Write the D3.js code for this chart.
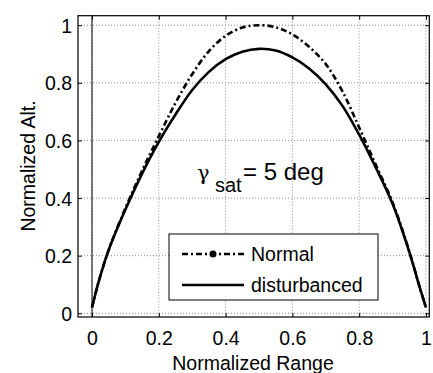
<!DOCTYPE html>
<html>
<head>
<meta charset="utf-8">
<script src="https://cdn.jsdelivr.net/npm/d3@7"></script>
<style>
    body { margin: 0; background: #fff; }
    text { font-family: "Liberation Sans", Arial, sans-serif; fill: #000; }
</style>
</head>
<body>
<div id="graph"></div>
<script>
// values
const rangeX = [0, 0.02, 0.05, 0.1, 0.15, 0.2, 0.25, 0.3, 0.35, 0.4, 0.45, 0.5,
    0.55, 0.6, 0.65, 0.7, 0.75, 0.8, 0.85, 0.9, 0.95, 0.98, 1];
const altNormal = [0.02, 0.11, 0.22, 0.365, 0.495, 0.615, 0.73, 0.83, 0.91, 0.963, 0.992, 1.0,
    0.993, 0.968, 0.925, 0.865, 0.77, 0.645, 0.515, 0.385, 0.215, 0.095, 0.02];
const altDisturbed = [0.02, 0.11, 0.22, 0.36, 0.485, 0.595, 0.69, 0.775, 0.838, 0.882, 0.908, 0.918,
    0.912, 0.888, 0.85, 0.795, 0.72, 0.62, 0.505, 0.38, 0.213, 0.095, 0.02];
const xTicks = [0, 0.2, 0.4, 0.6, 0.8, 1];
const yTicks = [0, 0.2, 0.4, 0.6, 0.8, 1];
const legendLabels = ["Normal", "disturbanced"];

const width = 433;
const height = 373;
const box = {left: 78, right: 429.3, top: 15.7, bottom: 317};

const xScale = d3.scaleLinear()
    .domain([-0.042, 1.01])
    .range([box.left, box.right]);

const yScale = d3.scaleLinear()
    .domain([-0.013, 1.033])
    .range([box.bottom, box.top]);

const svg = d3.select("#graph")
    .append("svg")
    .attr("width", width)
    .attr("height", height);

// grid
svg.append("g")
    .selectAll("line")
    .data(xTicks)
    .join("line")
    .attr("x1", d => xScale(d))
    .attr("x2", d => xScale(d))
    .attr("y1", box.top)
    .attr("y2", box.bottom)
    .attr("stroke", "#8c8c8c")
    .attr("stroke-dasharray", "1,2");

svg.append("g")
    .selectAll("line")
    .data(yTicks)
    .join("line")
    .attr("x1", box.left)
    .attr("x2", box.right)
    .attr("y1", d => yScale(d))
    .attr("y2", d => yScale(d))
    .attr("stroke", "#8c8c8c")
    .attr("stroke-dasharray", "1,2");

// solid line at x = 0
svg.append("line")
    .attr("x1", xScale(0))
    .attr("x2", xScale(0))
    .attr("y1", box.top)
    .attr("y2", box.bottom)
    .attr("stroke", "#000")
    .attr("stroke-width", 1);

// axes, ticks inward on all sides
const tickLen = 4;
svg.append("g")
    .attr("transform", `translate(0, ${box.bottom})`)
    .call(d3.axisBottom(xScale).tickValues(xTicks).tickSizeInner(-tickLen).tickSizeOuter(0).tickFormat(d3.format("")))
    .call(g => g.select(".domain").remove())
    .call(g => g.selectAll("text").attr("font-size", "19.5px").attr("y", 14).attr("dy", "0.71em"));

svg.append("g")
    .attr("transform", `translate(0, ${box.top})`)
    .call(d3.axisTop(xScale).tickValues(xTicks).tickSizeInner(-tickLen).tickSizeOuter(0).tickFormat(""))
    .call(g => g.select(".domain").remove());

svg.append("g")
    .attr("transform", `translate(${box.left}, 0)`)
    .call(d3.axisLeft(yScale).tickValues(yTicks).tickSizeInner(-tickLen).tickSizeOuter(0).tickFormat(d3.format("")))
    .call(g => g.select(".domain").remove())
    .call(g => g.selectAll("text").attr("font-size", "19.5px").attr("x", -6).attr("dy", "0.36em"));

svg.append("g")
    .attr("transform", `translate(${box.right}, 0)`)
    .call(d3.axisRight(yScale).tickValues(yTicks).tickSizeInner(-tickLen).tickSizeOuter(0).tickFormat(""))
    .call(g => g.select(".domain").remove());

svg.selectAll(".tick line").attr("stroke", "#000");
svg.selectAll(".tick text").attr("fill", "#000").attr("font-family", "Liberation Sans, Arial, sans-serif");

svg.append("rect")
    .attr("x", box.left)
    .attr("y", box.top)
    .attr("width", box.right - box.left)
    .attr("height", box.bottom - box.top)
    .attr("fill", "none")
    .attr("stroke", "#000")
    .attr("stroke-width", 1.2);

// curves
const line = d3.line()
    .x(d => xScale(d[0]))
    .y(d => yScale(d[1]))
    .curve(d3.curveCatmullRom.alpha(0.5));

svg.append("path")
    .datum(d3.zip(rangeX, altDisturbed))
    .attr("fill", "none")
    .attr("stroke", "#000")
    .attr("stroke-width", 2.6)
    .attr("d", line);

svg.append("path")
    .datum(d3.zip(rangeX, altNormal))
    .attr("fill", "none")
    .attr("stroke", "#000")
    .attr("stroke-width", 2.6)
    .attr("stroke-dasharray", "6,3,2,3")
    .attr("d", line);

// annotation
const note = svg.append("text")
    .attr("y", 180);
note.append("tspan")
    .attr("x", 197)
    .attr("font-family", "DejaVu Serif, serif")
    .attr("font-size", "21px")
    .text("γ");
note.append("tspan")
    .attr("x", 215)
    .attr("y", 192)
    .attr("font-size", "20px")
    .text("sat");
note.append("tspan")
    .attr("x", 243)
    .attr("y", 180)
    .attr("font-size", "24px")
    .text("= 5 deg");

// legend
const legend = svg.append("g");
legend.append("rect")
    .attr("x", 169)
    .attr("y", 234)
    .attr("width", 209)
    .attr("height", 66)
    .attr("fill", "#fff")
    .attr("stroke", "#000");

const rowY = [254, 285];
legend.append("line")
    .attr("x1", 182).attr("x2", 244)
    .attr("y1", rowY[0]).attr("y2", rowY[0])
    .attr("stroke", "#000")
    .attr("stroke-width", 2.6)
    .attr("stroke-dasharray", "6,3,2,3");
legend.append("circle")
    .attr("cx", 213)
    .attr("cy", rowY[0])
    .attr("r", 3.5)
    .attr("fill", "#000");
legend.append("line")
    .attr("x1", 182).attr("x2", 244)
    .attr("y1", rowY[1]).attr("y2", rowY[1])
    .attr("stroke", "#000")
    .attr("stroke-width", 2.6);

legend.selectAll("text.lab")
    .data(legendLabels)
    .join("text")
    .attr("class", "lab")
    .attr("x", 251)
    .attr("y", (d, i) => rowY[i])
    .attr("dy", "0.36em")
    .attr("font-size", "19.5px")
    .text(d => d);

// axis labels
svg.append("text")
    .attr("x", 253)
    .attr("y", 370)
    .attr("text-anchor", "middle")
    .attr("font-size", "19.5px")
    .text("Normalized Range");

svg.append("text")
    .attr("x", -166)
    .attr("y", 35)
    .attr("text-anchor", "middle")
    .attr("transform", "rotate(-90)")
    .attr("font-size", "19.5px")
    .text("Normalized Alt.");
</script>
</body>
</html>
